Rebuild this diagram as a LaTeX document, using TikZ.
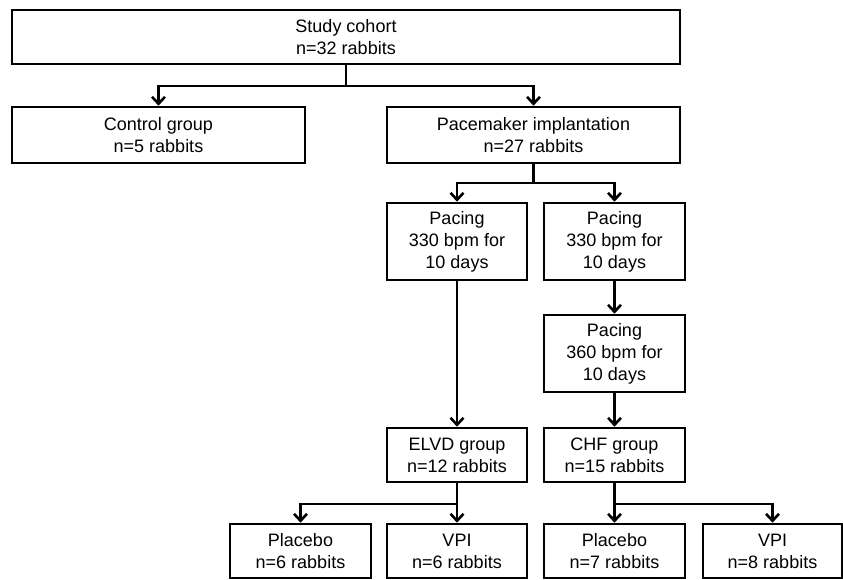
\documentclass[tikz,border=0pt]{standalone}
\usepackage{fontspec}
\setmainfont{Liberation Sans}
\usetikzlibrary{arrows.meta}

\begin{document}
\begin{tikzpicture}[x=1pt,y=-1pt,
    box/.style={draw, line width=2.6pt, align=center, inner sep=0pt,
        font=\fontsize{18}{22}\selectfont},
    link/.style={line width=2.6pt, -{Straight Barb[length=7pt,width=13pt]}}]

        \useasboundingbox (0,0) rectangle (843,579);

        \node[box, minimum width=668pt, minimum height=54pt] (cohort) at (346, 37) {Study cohort\\n=32 rabbits};
        \node[box, minimum width=293pt, minimum height=56pt] (control) at (158.5, 135) {Control group\\n=5 rabbits};
        \node[box, minimum width=293pt, minimum height=56pt] (pacemaker) at (533.5, 135) {Pacemaker implantation\\n=27 rabbits};
        \node[box, minimum width=140pt, minimum height=77pt] (pacinga) at (457, 241.5) {Pacing\\330 bpm for\\10 days};
        \node[box, minimum width=141pt, minimum height=77pt] (pacingb) at (614.5, 241.5) {Pacing\\330 bpm for\\10 days};
        \node[box, minimum width=141pt, minimum height=77pt] (pacingc) at (614.5, 353.5) {Pacing\\360 bpm for\\10 days};
        \node[box, minimum width=140pt, minimum height=54pt] (elvd) at (457, 455) {ELVD group\\n=12 rabbits};
        \node[box, minimum width=141pt, minimum height=54pt] (chf) at (614.5, 455) {CHF group\\n=15 rabbits};
        \node[box, minimum width=141pt, minimum height=54pt] (placeboa) at (300.5, 551) {Placebo\\n=6 rabbits};
        \node[box, minimum width=140pt, minimum height=54pt] (vpia) at (457, 551) {VPI\\n=6 rabbits};
        \node[box, minimum width=141pt, minimum height=54pt] (placebob) at (614.5, 551) {Placebo\\n=7 rabbits};
        \node[box, minimum width=139pt, minimum height=54pt] (vpib) at (772.5, 551) {VPI\\n=8 rabbits};

        % branch points
        \coordinate (j1) at (346, 86);
        \coordinate (j2) at (533.5, 183);
        \coordinate (j3) at (457, 504);
        \coordinate (j4) at (614.5, 504);

        \draw[line width=2.6pt] (cohort.south) -- (j1);
        \draw[link] (j1) -| (control.north);
        \draw[link] (j1) -| (pacemaker.north);

        \draw[line width=2.6pt] (pacemaker.south) -- (j2);
        \draw[link] (j2) -| (pacinga.north);
        \draw[link] (j2) -| (pacingb.north);

        \draw[link] (pacinga.south) -- (elvd.north);
        \draw[link] (pacingb.south) -- (pacingc.north);
        \draw[link] (pacingc.south) -- (chf.north);

        \draw[line width=2.6pt] (elvd.south) -- (j3);
        \draw[link] (j3) -| (placeboa.north);
        \draw[link] (j3) -- (vpia.north);

        \draw[line width=2.6pt] (chf.south) -- (j4);
        \draw[link] (j4) -- (placebob.north);
        \draw[link] (j4) -| (vpib.north);

    \end{tikzpicture}
\end{document}
